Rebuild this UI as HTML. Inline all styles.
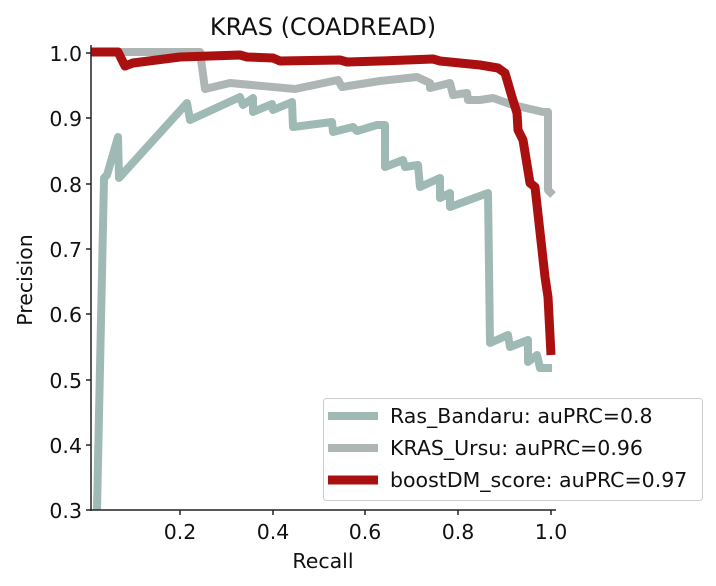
<!DOCTYPE html><html><head><style>body{margin:0;background:#fff}svg{display:block;font-family:"DejaVu Sans","Liberation Sans",sans-serif}</style></head><body>
<svg width="716" height="586" viewBox="0 0 716 586">
<text x="323" y="35" font-size="24" text-anchor="middle" fill="#111">KRAS (COADREAD)</text>
<g fill="none" stroke-linejoin="round" stroke-linecap="butt">
<polyline stroke="#9fbab5" stroke-width="8" points="97,510 104,178 107,175 118,137 119,178 187,103 190,120 240,97 243,105 253,98 253,112 272,104 273,110 292,102 293,127 332,122 333,132 353,127 357,131 377,125 385,125 385,167 403,160 405,167 418,165 420,187 440,178 440,198 450,193 450,207 488,193 490,343 508,335 510,347 528,340 528,362 537,355 540,368 552,368"/>
<polyline stroke="#adb5b5" stroke-width="8" points="91,52 200,52 205,89 230,83 295,89 338,80 342,87 380,81 417,77 430,83 430,88 450,83 453,95 467,93 468,100 480,100 493,98 513,105 543,112 548,112 548,190 553,195"/>
<polyline stroke="#ab1011" stroke-width="9" points="91,52 118,52 125,66 133,63 180,57 240,55 247,57 273,58 280,61 340,60 347,62 380,61 433,59 440,61 460,63 480,65 498,68 505,73 512,97 517,113 518,130 523,140 530,183 535,187 545,277 548,297 551,355"/>
</g>
<g stroke="#222" stroke-width="1.5">
<line x1="91" y1="45" x2="91" y2="511"/><line x1="90" y1="510" x2="556" y2="510"/>
<line x1="86" y1="53" x2="91" y2="53"/><line x1="86" y1="118" x2="91" y2="118"/><line x1="86" y1="184" x2="91" y2="184"/><line x1="86" y1="249" x2="91" y2="249"/><line x1="86" y1="314" x2="91" y2="314"/><line x1="86" y1="380" x2="91" y2="380"/><line x1="86" y1="445" x2="91" y2="445"/><line x1="86" y1="510" x2="91" y2="510"/>
<line x1="180" y1="510" x2="180" y2="515"/><line x1="273" y1="510" x2="273" y2="515"/><line x1="365" y1="510" x2="365" y2="515"/><line x1="458" y1="510" x2="458" y2="515"/><line x1="551" y1="510" x2="551" y2="515"/>
</g>
<g font-size="20.5" fill="#111" text-anchor="end">
<text x="82" y="61">1.0</text><text x="82" y="126">0.9</text><text x="82" y="192">0.8</text><text x="82" y="257">0.7</text><text x="82" y="322">0.6</text><text x="82" y="388">0.5</text><text x="82" y="453">0.4</text><text x="82" y="518">0.3</text>
</g>
<g font-size="20.5" fill="#111" text-anchor="middle">
<text x="180" y="539">0.2</text><text x="273" y="539">0.4</text><text x="365" y="539">0.6</text><text x="458" y="539">0.8</text><text x="551" y="539">1.0</text>
<text x="323" y="568">Recall</text>
<text transform="translate(32,280) rotate(-90)">Precision</text>
</g>
<rect x="323.5" y="398.5" width="379" height="102" rx="3" fill="#fff" fill-opacity="0.85" stroke="#ccc"/>
<g stroke-width="8"><line x1="328" y1="416" x2="378" y2="416" stroke="#9fbab5"/><line x1="328" y1="448" x2="378" y2="448" stroke="#adb5b5"/><line x1="328" y1="480" x2="378" y2="480" stroke="#ab1011" stroke-width="9"/></g>
<g font-size="20.5" fill="#111"><text x="390" y="423">Ras_Bandaru: auPRC=0.8</text><text x="390" y="455">KRAS_Ursu: auPRC=0.96</text><text x="390" y="487">boostDM_score: auPRC=0.97</text></g>
</svg></body></html>
